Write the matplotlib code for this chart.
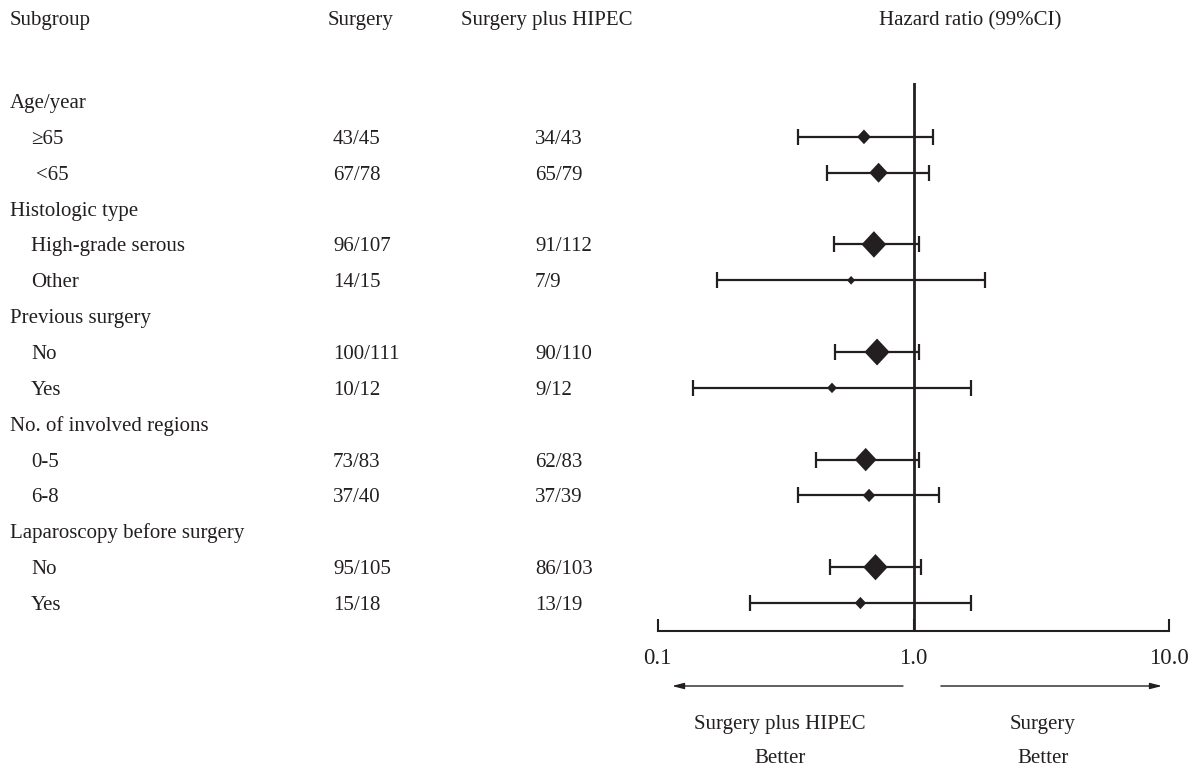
import numpy as np
import matplotlib
matplotlib.use("Agg")
import matplotlib.pyplot as plt

# ---------------- data ----------------
row_labels = ["Age/year", "\u226565", "<65",
              "Histologic type", "High-grade serous", "Other",
              "Previous surgery", "No", "Yes",
              "No. of involved regions", "0-5", "6-8",
              "Laparoscopy before surgery", "No", "Yes"]
is_group = [True, False, False, True, False, False, True, False, False,
            True, False, False, True, False, False]
surgery = ["", "43/45", "67/78", "", "96/107", "14/15", "", "100/111", "10/12",
           "", "73/83", "37/40", "", "95/105", "15/18"]
hipec = ["", "34/43", "65/79", "", "91/112", "7/9", "", "90/110", "9/12",
         "", "62/83", "37/39", "", "86/103", "13/19"]
hr = [np.nan, 0.64, 0.73, np.nan, 0.70, 0.57, np.nan, 0.72, 0.48,
      np.nan, 0.65, 0.67, np.nan, 0.71, 0.62]
ci_lo = [np.nan, 0.354, 0.46, np.nan, 0.488, 0.17, np.nan, 0.495, 0.138,
         np.nan, 0.417, 0.352, np.nan, 0.473, 0.23]
ci_hi = [np.nan, 1.19, 1.15, np.nan, 1.05, 1.91, np.nan, 1.05, 1.67,
         np.nan, 1.05, 1.26, np.nan, 1.07, 1.67]
# relative weight of each estimate (box area)
weights = [0, 19.6, 36.1, 0, 64.0, 6.9, 0, 66.0, 10.0,
           0, 49.7, 16.1, 0, 62.5, 13.7]
headers = ["Subgroup", "Surgery", "Surgery plus HIPEC", "Hazard ratio (99%CI)"]
xticks = [0.1, 1.0, 10.0]
xticklabels = ["0.1", "1.0", "10.0"]

# ---------------- style ----------------
W, H = 1196, 767
C = "#231f20"
FONT = ["Liberation Serif", "DejaVu Serif"]
FS = 15
plt.rcParams["font.family"] = FONT

fig = plt.figure(figsize=(W / 100, H / 100), dpi=100)

def ftext(x, y, s, **kw):
    # y is the visual centre (mid cap-height) in pixels from top
    kw.setdefault("fontsize", FS)
    kw.setdefault("color", C)
    fig.text(x / W, 1 - (y + 7) / H, s, va="baseline", **kw)

row0, dy = 101.0, 35.86
ax_top_px, ax_bot_px = 83.0, 631.0
x01_px, x10_px = 657.7, 1169.4

ax = fig.add_axes([x01_px / W, 1 - ax_bot_px / H,
                   (x10_px - x01_px) / W, (ax_bot_px - ax_top_px) / H])
ax.set_xscale("log")
ax.set_xlim(0.1, 10)
ax.set_ylim((ax_bot_px - row0) / dy, (ax_top_px - row0) / dy)

# headers
ftext(10, 18, headers[0])
ftext(328, 18, headers[1])
ftext(461, 18, headers[2])
ftext(970, 18, headers[3], ha="center")

# rows
hr_a = np.array(hr)
lo_a = np.array(ci_lo)
hi_a = np.array(ci_hi)
w_a = np.array(weights)
ys = np.arange(len(row_labels))
for i, lab in enumerate(row_labels):
    ypx = row0 + i * dy
    if is_group[i]:
        ftext(10, ypx, lab)
    else:
        xoff = 36 if lab.startswith("<") else 31
        ftext(xoff, ypx, lab)
        ftext(333, ypx, surgery[i])
        ftext(535, ypx, hipec[i])

mask = ~np.isnan(hr_a)

ax.axvline(1.0, color=C, lw=2.0, zorder=1)
ax.errorbar(hr_a[mask], ys[mask],
            xerr=[hr_a[mask] - lo_a[mask], hi_a[mask] - hr_a[mask]],
            fmt="none", ecolor=C, elinewidth=1.6, capsize=5.5, capthick=1.6,
            zorder=2)
diamond = [(0, -1.07), (1, 0), (0, 1.07), (-1, 0), (0, -1.07)]
ax.scatter(hr_a[mask], ys[mask], s=5.7 * w_a[mask], marker=diamond,
           color=C, zorder=3, linewidths=0)

for sp in ["top", "left", "right"]:
    ax.spines[sp].set_visible(False)
ax.spines["bottom"].set_linewidth(1.5)
ax.spines["bottom"].set_color(C)
ax.set_yticks([])
ax.set_xticks(xticks)
ax.set_xticklabels(xticklabels)
ax.xaxis.set_minor_locator(matplotlib.ticker.NullLocator())
ax.tick_params(axis="x", direction="in", length=9, width=1.5, color=C,
               labelsize=16.5, labelcolor=C, pad=12)
ax.patch.set_alpha(0)

# arrows
arr_y = H - 686
for x0, x1 in [(0.909, 0.1137), (1.279, 9.36)]:
    ax.annotate("", xy=(x1, arr_y), xytext=(x0, arr_y),
                xycoords=("data", "figure pixels"),
                textcoords=("data", "figure pixels"),
                arrowprops=dict(arrowstyle="-|>,head_length=0.7,head_width=0.18",
                                color=C, lw=1.0, shrinkA=0, shrinkB=0))

ftext(780, 722, "Surgery plus HIPEC", ha="center")
ftext(780, 756, "Better", ha="center")
ftext(1043, 722, "Surgery", ha="center")
ftext(1043, 756, "Better", ha="center")

fig.savefig("out.png", dpi=100)
